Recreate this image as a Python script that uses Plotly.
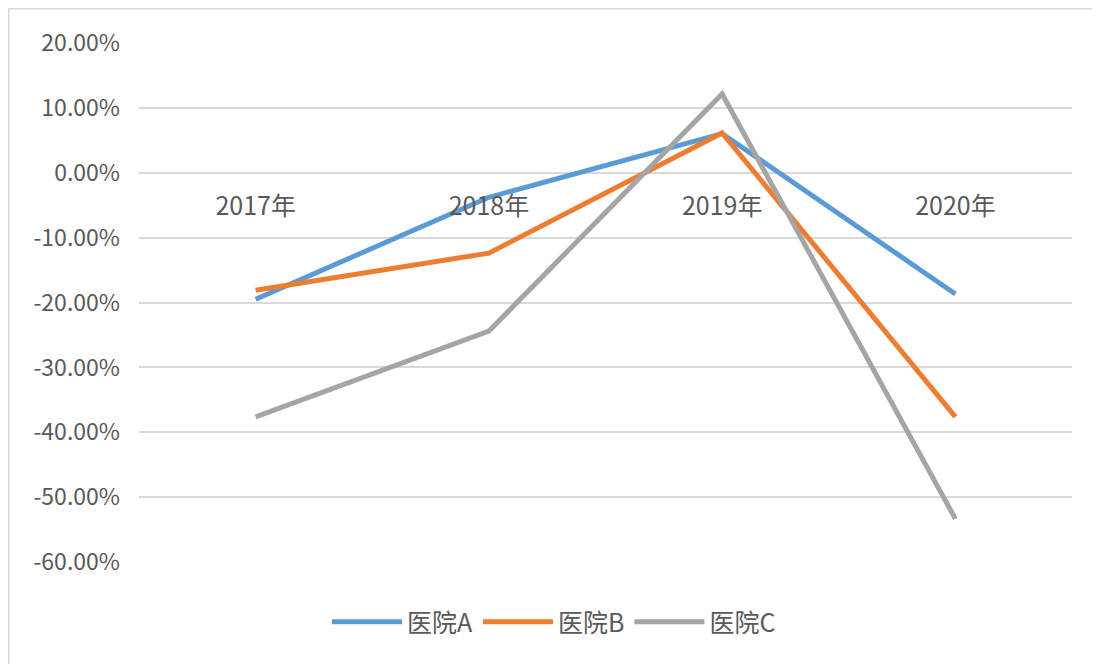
import plotly.graph_objects as go

years = ["2017年", "2018年", "2019年", "2020年"]
hospital_a = [-0.195, -0.038, 0.060, -0.187]
hospital_b = [-0.181, -0.124, 0.061, -0.376]
hospital_c = [-0.376, -0.244, 0.121, -0.533]
series_names = ["医院A", "医院B", "医院C"]
series_colors = ["#5B9BD5", "#ED7D31", "#A5A5A5"]
y_ticks = [0.2, 0.1, 0.0, -0.1, -0.2, -0.3, -0.4, -0.5, -0.6]
y_tick_labels = ["20.00%", "10.00%", "0.00%", "-10.00%", "-20.00%",
                 "-30.00%", "-40.00%", "-50.00%", "-60.00%"]

# page body has an 8px margin, so figure coords = screen coords - 8
W, H = 1100, 664
L, R, T, B = 131, 36, 34, 109
FONT = "Noto Sans CJK SC"
TXT = "#595959"

ymin, ymax = -0.6, 0.2
pw, ph = W - L - R, H - T - B

fig = go.Figure()
for name, vals, col in zip(series_names, [hospital_a, hospital_b, hospital_c], series_colors):
    fig.add_trace(go.Scatter(x=years, y=vals, mode="lines", name=name,
                             line=dict(color=col, width=5)))


def px_x(p):
    return (p - L) / pw


def px_y(p):
    return (H - B - p) / ph


# chart-area border
fig.add_shape(type="rect", xref="paper", yref="paper",
              x0=px_x(0.75), x1=px_x(1120), y0=px_y(700), y1=px_y(0.75),
              line=dict(color="#D9D9D9", width=1.5), fillcolor="rgba(0,0,0,0)", layer="below")

fig.update_layout(
    width=W, height=H,
    margin=dict(l=L, r=R, t=T, b=B),
    paper_bgcolor="white", plot_bgcolor="white",
    font=dict(family=FONT, size=23, color=TXT),
    showlegend=True,
    legend=dict(orientation="h", x=px_x(546), xanchor="center", y=px_y(614), yanchor="middle",
                font=dict(size=25, color=TXT), tracegroupgap=0, itemwidth=70),
    xaxis=dict(type="category", range=[-0.5, 3.5], showgrid=False, zeroline=False, showline=False,
               anchor="free", position=(0 - ymin) / (ymax - ymin), ticks="", ticklabelstandoff=17,
               automargin=False, tickfont=dict(size=25, color=TXT)),
    yaxis=dict(range=[ymin - 0.001, ymax + 0.001], tickvals=y_ticks, ticktext=y_tick_labels,
               showgrid=True, gridcolor="#D9D9D9", gridwidth=1.5, zeroline=False, showline=False,
               ticks="", ticklabelstandoff=18, automargin=False, tickfont=dict(size=23, color=TXT)),
)

fig.write_html("out.html")
